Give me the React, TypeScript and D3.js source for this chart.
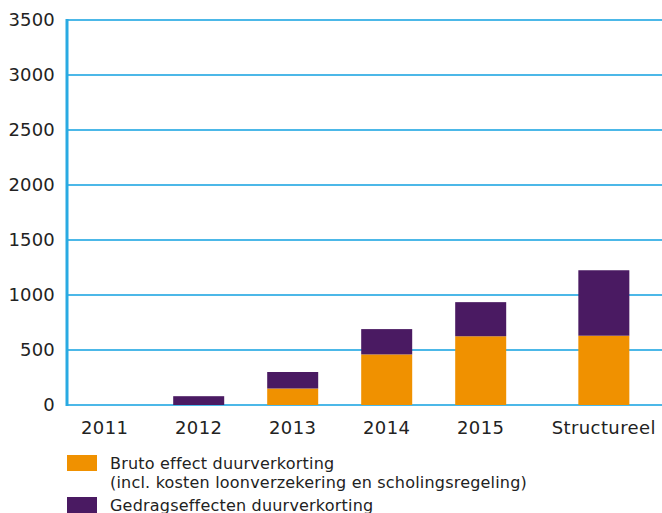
import * as d3 from 'd3';
import { useMemo } from 'react';

const categories = ['2011', '2012', '2013', '2014', '2015', 'Structureel'];
const bruto = [0, 0, 150, 460, 625, 630];
const gedrag = [0, 80, 150, 230, 310, 595];
const yTicks = [0, 500, 1000, 1500, 2000, 2500, 3000, 3500];
const legendItems = [
  { label: ['Bruto effect duurverkorting', '(incl. kosten loonverzekering en scholingsregeling)'], color: '#f09100' },
  { label: ['Gedragseffecten duurverkorting'], color: '#4a1a62' },
];

const width = 662;
const height = 513;
const MARGIN = { top: 20, right: 0, left: 67, bottom: 108 };
const FONT = 'DejaVu Sans, Verdana, sans-serif';

export default function App() {
  const boundsHeight = height - MARGIN.top - MARGIN.bottom;

  const yScale = useMemo(() => {
    return d3.scaleLinear().domain([0, 3500]).range([MARGIN.top + boundsHeight, MARGIN.top]);
  }, [boundsHeight]);

  // years are evenly spaced, Structureel sits a bit further out
  const xIndex = useMemo(() => d3.scaleLinear().domain([0, 4]).range([104.7, 480.7]), []);
  const xPos = (i: number) => (i === 5 ? xIndex(5.31) : xIndex(i));
  const barWidth = 51;

  const stacked = useMemo(() => {
    const rows = categories.map((c, i) => ({ cat: c, bruto: bruto[i], gedrag: gedrag[i] }));
    return d3.stack<any>().keys(['bruto', 'gedrag'])(rows);
  }, []);
  const colors = ['#f09100', '#4a1a62'];

  return (
    <svg width={width} height={height} style={{ position: 'absolute', left: 0, top: 0, background: '#fff' }}>
      {/* gridlines */}
      {yTicks.map((t) => (
        <g key={t}>
          <line x1={MARGIN.left} x2={width} y1={yScale(t)} y2={yScale(t)} stroke="#4cb8e8" strokeWidth={2} />
          <text x={55} y={yScale(t)} dy="0.36em" textAnchor="end" fontFamily={FONT} fontSize={18} letterSpacing={0.2} fill="#222">
            {t}
          </text>
        </g>
      ))}

      {/* bars */}
      {stacked.map((layer, li) => (
        <g key={layer.key} fill={colors[li]}>
          {layer.map((d, i) =>
            d[1] - d[0] > 0 ? (
              <rect
                key={i}
                x={xPos(i) - barWidth / 2}
                y={yScale(d[1])}
                width={barWidth}
                height={yScale(d[0]) - yScale(d[1])}
              />
            ) : null
          )}
        </g>
      ))}

      {/* y axis line */}
      <line x1={MARGIN.left} x2={MARGIN.left} y1={yScale(3500) - 1} y2={yScale(0) + 1} stroke="#29aae2" strokeWidth={3} />

      {/* x labels */}
      {categories.map((c, i) => (
        <text key={c} x={xPos(i)} y={434} textAnchor="middle" fontFamily={FONT} fontSize={18} letterSpacing={0.4} fill="#222">
          {c}
        </text>
      ))}

      {/* legend */}
      {legendItems.map((item, i) => (
        <g key={i} transform={`translate(67, ${455 + i * 42})`}>
          <rect x={0} y={0} width={30} height={16} fill={item.color} />
          {item.label.map((l, j) => (
            <text key={j} x={43} y={14 + j * 19} fontFamily={FONT} fontSize={16} letterSpacing={0.2} fill="#222">
              {l}
            </text>
          ))}
        </g>
      ))}
    </svg>
  );
}
